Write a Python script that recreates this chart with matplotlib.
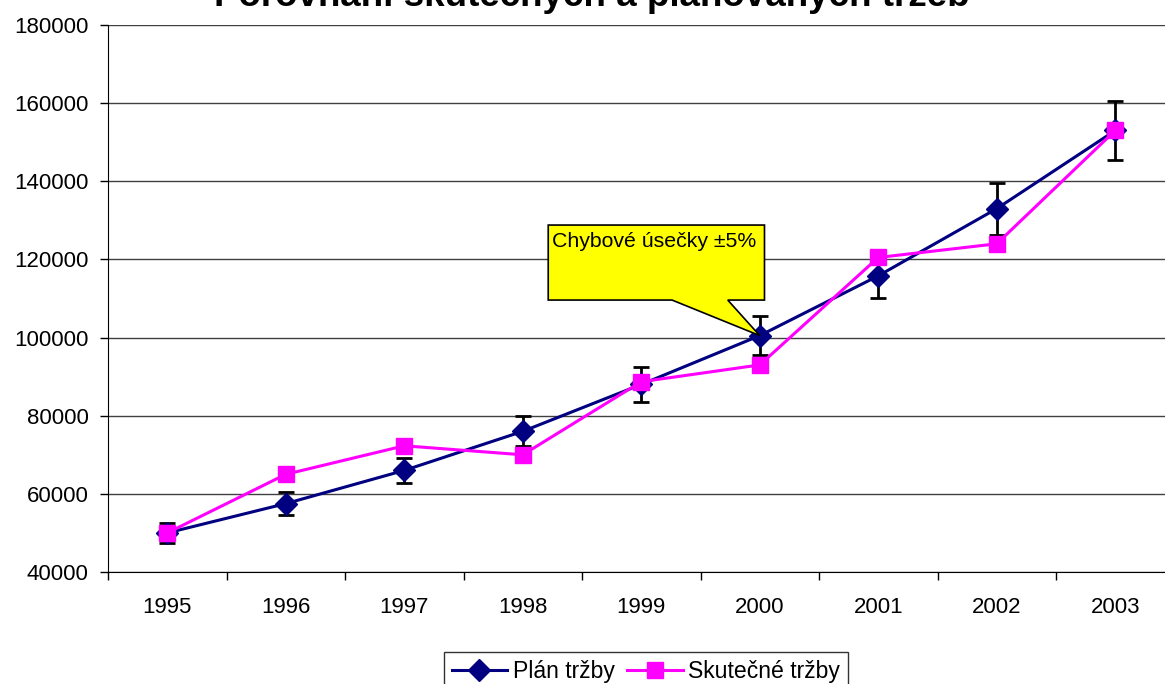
import matplotlib
matplotlib.use("Agg")
import matplotlib.pyplot as plt
import numpy as np
from matplotlib.patches import Polygon

years = ['1995', '1996', '1997', '1998', '1999', '2000', '2001', '2002', '2003']
plan = [50000, 57500, 66000, 76000, 88000, 100500, 115800, 133000, 153000]
actual = [50000, 65000, 72300, 70000, 88700, 93000, 120500, 124000, 153000]
err_pct = 0.05

plt.rcParams['font.family'] = ['Liberation Sans', 'DejaVu Sans']

fig = plt.figure(figsize=(11.65, 6.84), dpi=100)
ax = fig.add_axes([108 / 1165, 112 / 684, 1066.5 / 1165, 547 / 684])

x = np.arange(len(years))
plan = np.array(plan)
ax.errorbar(x, plan, yerr=plan * err_pct, fmt='none', ecolor='black',
            elinewidth=2, capsize=6, capthick=2, zorder=2)
ax.plot(x, plan, color='#000080', lw=2.2, marker='D', ms=11,
        label='Plán tržby', zorder=3)
ax.plot(x, actual, color='#FF00FF', lw=2.2, marker='s', ms=11.5,
        label='Skutečné tržby', zorder=3)

ax.set_xlim(-0.5, len(years) - 0.5)
ax.set_ylim(40000, 180000)
ax.set_yticks(np.arange(40000, 180001, 20000))
ax.set_xticks(x)
ax.set_xticklabels(years)
ax.set_xticks(np.arange(-0.5, len(years)), minor=True)
ax.tick_params(axis='x', which='major', length=0, pad=18, labelsize=16)
ax.tick_params(axis='x', which='minor', length=6, width=1)
ax.tick_params(axis='y', length=6, width=1, labelsize=16, pad=8)
ax.grid(axis='y', color='#404040', lw=1)
ax.set_axisbelow(True)
for s in ['top', 'right']:
    ax.spines[s].set_visible(False)

# callout
i = years.index('2000')
callout = Polygon([(3.215, 128800), (5.04, 128800), (5.04, 109600),
                   (4.73, 109600), (i, plan[i]), (4.26, 109600),
                   (3.215, 109600)], closed=True, facecolor='#FFFF00',
                  edgecolor='black', lw=1.2, zorder=4)
ax.add_patch(callout)
ax.text(3.25, 124700, 'Chybové úsečky ±5%', fontsize=15.3, va='center',
        ha='left', zorder=5)

fig.text(0.508, 1 - 6 / 684, 'Porovnání skutečných a plánovaných tržeb',
         ha='center', va='baseline', fontsize=26.5, fontweight='bold')

leg = fig.legend(loc='upper center', bbox_to_anchor=(0.5545, 1 - 652 / 684),
                 ncol=2, fontsize=16.6, frameon=True, fancybox=False,
                 edgecolor='black', handlelength=2.4, handletextpad=0.25,
                 columnspacing=0.55, borderpad=0.35, borderaxespad=0)
leg.get_frame().set_linewidth(1)

fig.savefig('out.png', dpi=100)
